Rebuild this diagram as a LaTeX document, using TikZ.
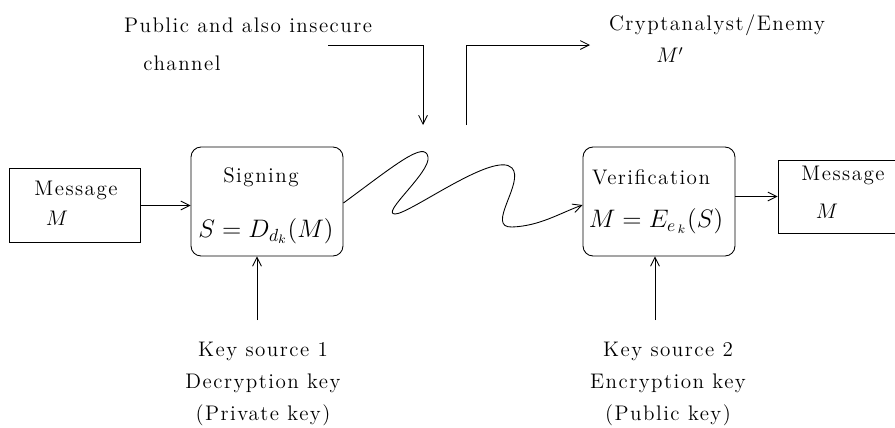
\documentclass[tikz,border=0pt]{standalone}
\usepackage{amsmath,amssymb}
\usepackage{fontspec}
\setmainfont{lmroman12-regular.otf}[LetterSpace=7]
\usepackage{tikz}
\usetikzlibrary{arrows.meta,positioning,calc}

\begin{document}
\begin{tikzpicture}[x=0.02cm, y=-0.02cm, font=\large,
    line width=0.5pt,
    msgbox/.style={rectangle, draw, minimum width=#1, minimum height=1.48cm, inner sep=0pt},
    procbox/.style={rectangle, rounded corners=2mm, draw, minimum width=3.04cm,
                    minimum height=2.18cm, inner sep=0pt},
    arr/.style={-{Straight Barb[length=5pt,width=5pt]}}]

\useasboundingbox (0,0) rectangle (895,427);

% boxes
\node[msgbox=2.62cm] (msgL) at (74.5,205.5) {};
\node[procbox] (sign) at (267,201.5) {};
\node[procbox] (verify) at (659,201.5) {};
\node[msgbox=2.4cm, minimum height=1.46cm] (msgR) at (838,196.5) {};

% texts in the boxes
\node (msgLt) at (76,190) {Message};
\node (msgLm) at (57,218) {$M$};
\node (signt) at (261,177) {Signing};
\node[font=\Large] (signf) at (266,231) {$S = D_{d_k}(M)$};
\node (verifyt) at (651,177) {Verification};
\node[font=\Large] (verifyf) at (656,221) {$M = E_{e_{\,k}}(S)$};
\node (msgRt) at (843,175) {Message};
\node (msgRm) at (827,211) {$M$};

% channel and enemy
\node (chan1) at (248,25) {Public and also insecure};
\node (chan2) at (182,63) {channel};
\node (eve) at (717,25) {Cryptanalyst/Enemy};
\node (evem) at (670,55) {$M'$};

% key sources
\node[align=center] (key1) at (263,384) {Key source 1\\[4pt] Decryption key\\[4pt] (Private key)};
\node[align=center] (key2) at (668,384) {Key source 2\\[4pt] Encryption key\\[4pt] (Public key)};

\coordinate (k1) at (257,320);
\coordinate (k2) at (655,320);
\coordinate (chs) at (328,45);
\coordinate (chin) at (423,125);
\coordinate (eveout) at (466,125);
\coordinate (evein) at (590,45);

\draw[arr] (msgL.east) -- (msgL.east -| sign.west);
\draw[arr] (verify.east |- msgR.west) -- (msgR.west);
\draw[arr] (k1) -- (k1 |- sign.south);
\draw[arr] (k2) -- (k2 |- verify.south);
\draw[arr] (chs) -| (chin);
\draw[arr] (eveout) |- (evein);

% the wavy channel
\draw[arr] (sign.east |- 0,203)
    .. controls (395,165) and (425,140) .. (428,157)
    .. controls (431,172) and (380,214) .. (395,214)
    .. controls (410,214) and (495,150) .. (512,168)
    .. controls (525,182) and (485,228) .. (512,227)
    .. controls (540,226) and (560,213) .. (verify.west |- 0,205);
\end{tikzpicture}
\end{document}
